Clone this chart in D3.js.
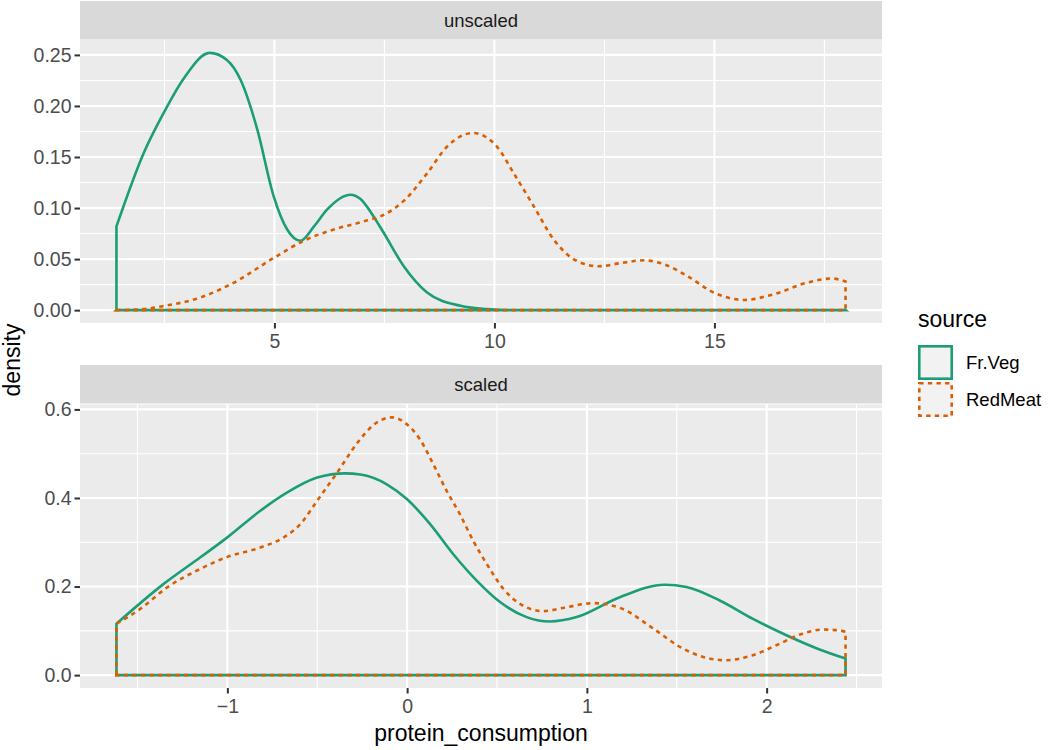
<!DOCTYPE html>
<html>
<head>
<meta charset="utf-8">
<script src="https://cdn.jsdelivr.net/npm/d3@7"></script>
<style>
  body { margin: 0; background: #ffffff; }
  svg { display: block; font-family: "Liberation Sans", Arial, sans-serif; }
</style>
</head>
<body>
<svg id="chart" width="1051" height="750"></svg>
<script>
// Density of protein consumption, unscaled vs scaled, by source

const sources = ['Fr.Veg', 'RedMeat'];
const sourceColors = ['#1B9E77', '#D95F02'];
const sourceDash = ['none', '4.3,4.3'];

// top facet: unscaled values
const unscaledX = [1.41, 2.03, 2.48, 2.94, 3.53, 3.92, 4.23, 4.61, 4.98, 5.29, 5.59, 5.9, 6.2, 6.73, 6.95, 7.22, 7.48, 7.94, 8.47, 9.23, 9.83, 10.5, 12, 15, 17.98];
const unscaledFrVeg = [0.082, 0.154, 0.193, 0.227, 0.252, 0.245, 0.2256, 0.177, 0.112, 0.079, 0.068, 0.082, 0.0986, 0.113, 0.109, 0.094, 0.076, 0.043, 0.0173, 0.0042, 0.001, 0, 0, 0, 0];

const unscaledRedX = [1.41, 2.0, 2.48, 3.32, 4.08, 4.98, 5.67, 6.35, 6.95, 7.56, 7.94, 8.47, 8.92, 9.51, 10.06, 10.44, 10.89, 11.35, 11.88, 12.37, 12.86, 13.39, 13.85, 14.38, 14.98, 15.67, 16.35, 17.11, 17.67, 17.98];
const unscaledRedMeat = [0, 0.001, 0.004, 0.0124, 0.027, 0.051, 0.068, 0.079, 0.086, 0.095, 0.107, 0.134, 0.160, 0.1735, 0.160, 0.134, 0.102, 0.069, 0.048, 0.043, 0.046, 0.0488, 0.045, 0.0335, 0.0173, 0.010, 0.0156, 0.027, 0.031, 0.028];

// bottom facet: scaled values
const scaledFrX = [-1.617, -1.354, -1.15, -1.0, -0.817, -0.669, -0.5, -0.344, -0.26, -0.113, 0.0, 0.128, 0.257, 0.387, 0.517, 0.665, 0.794, 0.943, 1.183, 1.433, 1.554, 1.739, 1.924, 2.11, 2.294, 2.439];
const scaledFrVeg = [0.116, 0.206, 0.266, 0.311, 0.371, 0.412, 0.446, 0.4555, 0.453, 0.431, 0.397, 0.341, 0.273, 0.2135, 0.165, 0.131, 0.121, 0.131, 0.176, 0.204, 0.199, 0.1685, 0.127, 0.090, 0.058, 0.0375];

const scaledRedX = [-1.617, -1.483, -1.335, -1.15, -1.0, -0.817, -0.687, -0.594, -0.502, -0.39, -0.27, -0.187, -0.085, 0.0, 0.072, 0.146, 0.22, 0.294, 0.368, 0.443, 0.535, 0.628, 0.757, 0.887, 1.035, 1.183, 1.37, 1.517, 1.646, 1.776, 1.924, 2.054, 2.2, 2.313, 2.406, 2.439];
const scaledRedMeat = [0.116, 0.150, 0.198, 0.240, 0.267, 0.288, 0.311, 0.341, 0.393, 0.457, 0.528, 0.565, 0.582, 0.566, 0.532, 0.476, 0.416, 0.363, 0.303, 0.251, 0.195, 0.161, 0.1445, 0.1535, 0.1625, 0.152, 0.105, 0.064, 0.041, 0.0337, 0.045, 0.0674, 0.0936, 0.1029, 0.101, 0.098];

const unscaledXTicks = [5, 10, 15];
const unscaledYTicks = [0, 0.05, 0.10, 0.15, 0.20, 0.25];
const scaledXTicks = [-1, 0, 1, 2];
const scaledYTicks = [0, 0.2, 0.4, 0.6];

const facets = [
    {
        label: 'unscaled',
        series: [
            { x: unscaledX, y: unscaledFrVeg },
            { x: unscaledRedX, y: unscaledRedMeat }
        ],
        xTicks: unscaledXTicks,
        yTicks: unscaledYTicks,
        yFormat: d3.format('.2f'),
        stripTop: 1,
        panelTop: 40,
        panelBottom: 323
    },
    {
        label: 'scaled',
        series: [
            { x: scaledFrX, y: scaledFrVeg },
            { x: scaledRedX, y: scaledRedMeat }
        ],
        xTicks: scaledXTicks,
        yTicks: scaledYTicks,
        yFormat: d3.format('.1f'),
        stripTop: 365,
        panelTop: 404.5,
        panelBottom: 688
    }
];

const svg = d3.select('#chart');
const panelLeft = 80;
const panelRight = 882;

// ggplot-like 5% expansion
function expand(ext) {
    const pad = (ext[1] - ext[0]) * 0.05;
    return [ext[0] - pad, ext[1] + pad];
}

facets.forEach(f => {
    const allX = f.series.flatMap(s => s.x);
    const allY = f.series.flatMap(s => s.y);

    const x = d3.scaleLinear()
        .domain(expand(d3.extent(allX)))
        .range([panelLeft, panelRight]);
    const y = d3.scaleLinear()
        .domain(expand([0, d3.max(allY)]))
        .range([f.panelBottom, f.panelTop]);

    // strip
    svg.append('rect')
        .attr('x', panelLeft)
        .attr('y', f.stripTop)
        .attr('width', panelRight - panelLeft)
        .attr('height', 38.5)
        .attr('fill', '#D9D9D9');
    svg.append('text')
        .attr('x', (panelLeft + panelRight) / 2)
        .attr('y', f.stripTop + 19.5)
        .attr('dy', '0.36em')
        .attr('text-anchor', 'middle')
        .attr('fill', '#1A1A1A')
        .attr('font-size', '18.5px')
        .text(f.label);

    // panel background
    svg.append('rect')
        .attr('x', panelLeft)
        .attr('y', f.panelTop)
        .attr('width', panelRight - panelLeft)
        .attr('height', f.panelBottom - f.panelTop)
        .attr('fill', '#EBEBEB');

    const g = svg.append('g');

    // minor grid (midpoints between major ticks, within the panel)
    const xStep = f.xTicks[1] - f.xTicks[0];
    const xMinor = d3.range(f.xTicks[0] - xStep * 3 + xStep / 2, f.xTicks[f.xTicks.length - 1] + xStep * 3, xStep)
        .filter(v => v > x.domain()[0] && v < x.domain()[1]);
    const yStep = f.yTicks[1] - f.yTicks[0];
    const yMinor = d3.range(f.yTicks[0] - yStep / 2, f.yTicks[f.yTicks.length - 1] + yStep, yStep)
        .filter(v => v > y.domain()[0] && v < y.domain()[1]);

    g.selectAll('.xminor').data(xMinor).enter().append('line')
        .attr('x1', d => x(d)).attr('x2', d => x(d))
        .attr('y1', f.panelTop).attr('y2', f.panelBottom)
        .attr('stroke', '#ffffff').attr('stroke-width', 1.1);
    g.selectAll('.yminor').data(yMinor).enter().append('line')
        .attr('x1', panelLeft).attr('x2', panelRight)
        .attr('y1', d => y(d)).attr('y2', d => y(d))
        .attr('stroke', '#ffffff').attr('stroke-width', 1.1);

    // major grid
    g.selectAll('.xmajor').data(f.xTicks).enter().append('line')
        .attr('x1', d => x(d)).attr('x2', d => x(d))
        .attr('y1', f.panelTop).attr('y2', f.panelBottom)
        .attr('stroke', '#ffffff').attr('stroke-width', 2.1);
    g.selectAll('.ymajor').data(f.yTicks).enter().append('line')
        .attr('x1', panelLeft).attr('x2', panelRight)
        .attr('y1', d => y(d)).attr('y2', d => y(d))
        .attr('stroke', '#ffffff').attr('stroke-width', 2.1);

    // density outlines (full outline: vertical ends + baseline)
    const line = d3.line()
        .x(d => x(d[0]))
        .y(d => y(d[1]))
        .curve(d3.curveMonotoneX);

    f.series.forEach((s, i) => {
        const pts = s.x.map((v, k) => [v, s.y[k]]);
        const x0 = x(pts[0][0]);
        const xn = x(pts[pts.length - 1][0]);
        const curve = line(pts);
        const path = `M${x0},${y(0)}L` + curve.slice(1) + `L${xn},${y(0)}Z`;
        g.append('path')
            .attr('d', path)
            .attr('fill', 'none')
            .attr('stroke', sourceColors[i])
            .attr('stroke-width', 2.6)
            .attr('stroke-dasharray', sourceDash[i]);
    });

    // axes
    const xAxis = svg.append('g')
        .attr('transform', `translate(0, ${f.panelBottom})`)
        .call(d3.axisBottom(x).tickValues(f.xTicks).tickSize(5.5).tickPadding(6).tickFormat(d => d3.format('d')(d).replace('-', '\u2212')));
    const yAxis = svg.append('g')
        .attr('transform', `translate(${panelLeft}, 0)`)
        .call(d3.axisLeft(y).tickValues(f.yTicks).tickSize(5.5).tickPadding(3).tickFormat(f.yFormat));

    [xAxis, yAxis].forEach(a => {
        a.select('.domain').remove();
        a.selectAll('.tick line').attr('stroke', '#333333').attr('stroke-width', 2);
        a.selectAll('.tick text')
            .attr('fill', '#4D4D4D')
            .attr('font-size', '19.5px')
            .attr('font-family', '"Liberation Sans", Arial, sans-serif');
    });
});

// axis titles
svg.append('text')
    .attr('x', (panelLeft + panelRight) / 2)
    .attr('y', 741)
    .attr('text-anchor', 'middle')
    .attr('fill', '#000000')
    .attr('font-size', '23px')
    .text('protein_consumption');

svg.append('text')
    .attr('transform', 'translate(19.5, 360) rotate(-90)')
    .attr('text-anchor', 'middle')
    .attr('fill', '#000000')
    .attr('font-size', '23px')
    .text('density');

// legend
const legend = svg.append('g').attr('transform', 'translate(918, 0)');
legend.append('text')
    .attr('x', 0)
    .attr('y', 327)
    .attr('fill', '#000000')
    .attr('font-size', '23px')
    .text('source');

sources.forEach((name, i) => {
    const top = 345 + i * 37;
    legend.append('rect')
        .attr('x', 0)
        .attr('y', top)
        .attr('width', 35)
        .attr('height', 35)
        .attr('fill', '#F2F2F2');
    legend.append('rect')
        .attr('x', 1.3)
        .attr('y', top + 1.3)
        .attr('width', 32.4)
        .attr('height', 32.4)
        .attr('fill', 'none')
        .attr('stroke', sourceColors[i])
        .attr('stroke-width', 2.6)
        .attr('stroke-dasharray', sourceDash[i]);
    legend.append('text')
        .attr('x', 48)
        .attr('y', top + 17.5)
        .attr('dy', '0.36em')
        .attr('fill', '#000000')
        .attr('font-size', '18.5px')
        .text(name);
});
</script>
</body>
</html>
